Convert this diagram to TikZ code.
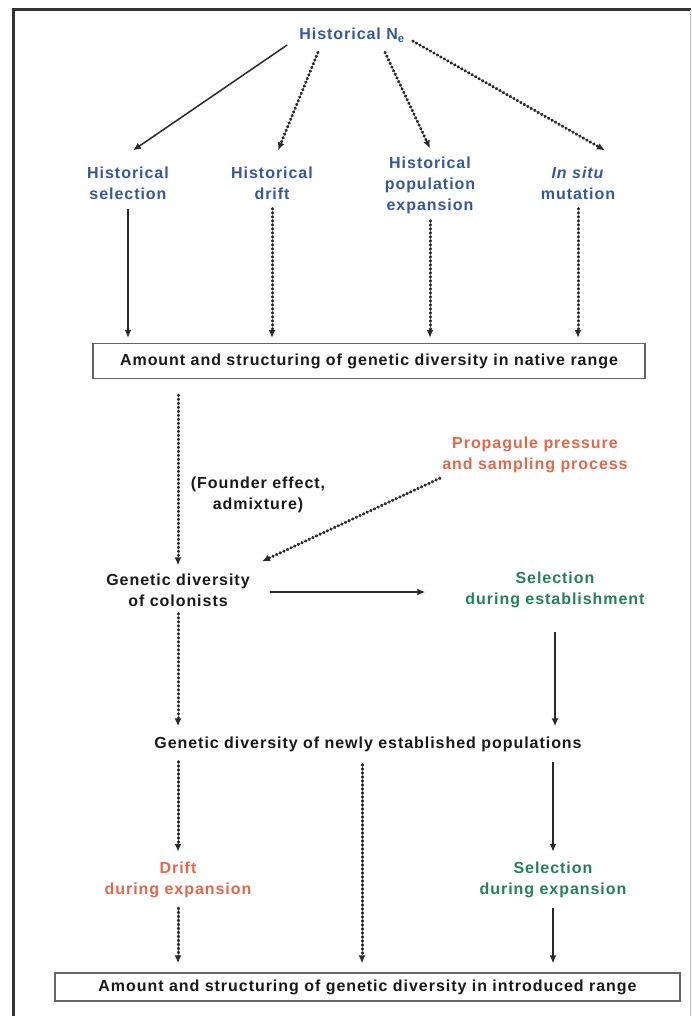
\documentclass[tikz,border=0pt]{standalone}
\usepackage{fontspec}
\setmainfont{Liberation Sans}[LetterSpace=6]
\usetikzlibrary{arrows.meta,calc}
\definecolor{nblue}{HTML}{36589A}
\definecolor{norange}{HTML}{E4674A}
\definecolor{ngreen}{HTML}{24805A}
\definecolor{ngray}{HTML}{2A2A2A}
\begin{document}
\begin{tikzpicture}[x=1pt,y=-1pt,
  every node/.style={font=\fontsize{16}{21}\selectfont\bfseries, align=center, inner sep=2pt, text=black!90},
  bluet/.style={text=nblue},
  oranget/.style={text=norange},
  greent/.style={text=ngreen},
  boxst/.style={draw=black!60, line width=1.2pt, inner sep=0pt},
  sarr/.style={draw=ngray, line width=1.8pt, -{Latex[length=8pt,width=7pt]}},
  darr/.style={draw=ngray, line width=3pt, line cap=round, dash pattern=on 0.6pt off 3.4pt, -{Latex[length=8pt,width=7pt]}}
]
\useasboundingbox (0,0) rectangle (691,1016);
\fill[white] (0,0) rectangle (691,1016);
\draw[line width=3pt, black!80] (13,1016) -- (13,10) -- (691,10);
\draw[line width=0.8pt, black!25] (690,10) -- (690,1016);

\node[bluet] (Ne) at (352,35) {Historical N\textsubscript{e}};
\node[bluet] (hs) at (128,183) {Historical\\selection};
\node[bluet] (hd) at (272,183) {Historical\\drift};
\node[bluet] (hp) at (430,185) {Historical\\population\\expansion};
\node[bluet] (is) at (578,183) {\textit{In situ}\\mutation};
\node[boxst, minimum width=552pt, minimum height=35pt] (native) at (369,361) {Amount and structuring of genetic diversity in native range};
\node (fe) at (258,495) {(Founder effect,\\admixture)};
\node[oranget] (pp) at (535,455) {Propagule pressure\\and sampling process};
\node (gc) at (178,590) {Genetic diversity\\of colonists};
\node[greent] (se) at (555,590) {Selection\\during establishment};
\node (gn) at (368,744) {Genetic diversity of newly established populations};
\node[oranget] (de) at (178,880) {Drift\\during expansion};
\node[greent] (sx) at (553,880) {Selection\\during expansion};
\node[boxst, minimum width=625pt, minimum height=28pt] (intro) at (367.5,987) {Amount and structuring of genetic diversity in introduced range};

% from historical Ne
\draw[sarr, line width=1.5pt] ($(Ne.west)+(-10,10)$) -- ($(hs.north)+(5,-14)$);
\draw[darr] ($(Ne.south)+(-34,8)$) -- ($(hd.north)+(6,-14)$);
\draw[darr] ($(Ne.south)+(33,8)$) -- ($(hp.north)+(0,-6)$);
\draw[darr] ($(Ne.east)+(6,6)$) -- ($(is.north)+(27,-14)$);

% to native range
\draw[sarr] ($(hs.south)+(0,7)$) -- ($(hs.south |- native.north)+(0,-5)$);
\draw[darr] ($(hd.south)+(0,7)$) -- ($(hd.south |- native.north)+(0,-5)$);
\draw[darr] ($(hp.south)+(0,5)$) -- ($(hp.south |- native.north)+(0,-5)$);
\draw[darr] ($(is.south)+(0,7)$) -- ($(is.south |- native.north)+(0,-5)$);

% native to colonists
\draw[darr] ($(native.south -| gc)+(0,16)$) -- ($(gc.north)+(0,-6)$);
\draw[darr] ($(pp.south)+(-95,3)$) -- ($(gc.north east)+(10,-10)$);
\draw[sarr] ($(gc.east)+(18,2)$) -- ($(se.west)+(-38,2)$);

% to newly established
\draw[darr] ($(gc.south)+(0,5)$) -- ($(gc.south |- gn.north)+(0,-8)$);
\draw[sarr] ($(se.south)+(0,22)$) -- ($(se.south |- gn.north)+(0,-8)$);

% from newly established
\draw[darr] ($(gn.south -| de)+(0,8)$) -- ($(de.north)+(0,-8)$);
\draw[darr] ($(gn.south)+(-6,11)$) -- ($(gn.south |- intro.north)+(-6,-9)$);
\draw[sarr] ($(gn.south -| sx)+(0,8)$) -- ($(sx.north)+(0,-8)$);

% to introduced range
\draw[darr] ($(de.south)+(0,8)$) -- ($(de.south |- intro.north)+(0,-9)$);
\draw[sarr] ($(sx.south)+(0,8)$) -- ($(sx.south |- intro.north)+(0,-9)$);
\end{tikzpicture}
\end{document}
